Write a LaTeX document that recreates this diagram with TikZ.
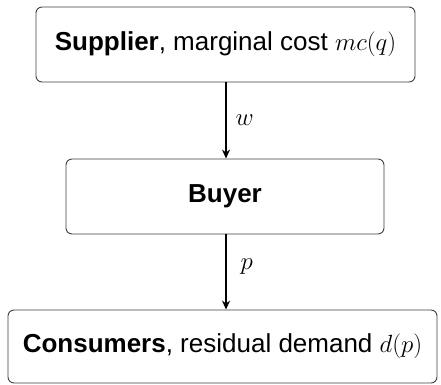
\documentclass[tikz,border=0pt]{standalone}
\usepackage{fontspec}
\setmainfont{Liberation Sans}
\usetikzlibrary{arrows.meta}
\newcommand{\bigmath}[1]{{\fontsize{29}{34}\selectfont$#1$}}
\tikzset{
  box/.style={draw=black!75, line width=0.9pt, rounded corners=6pt, fill=white, inner sep=0pt, font=\fontsize{26}{31}\selectfont},
  flow/.style={draw=black, line width=1.3pt, -{Stealth[length=9pt,width=8pt]}},
  lab/.style={anchor=west, inner sep=0pt, font=\fontsize{27}{32}\selectfont}
}
\begin{document}
\begin{tikzpicture}[x=1pt,y=1pt]
\useasboundingbox (0,0) rectangle (441,384);
\node[box, minimum width=379pt, minimum height=75pt] (sup) at (225.5,339.5)
  {\textbf{Supplier}, marginal cost \bigmath{mc(q)}};
\node[box, minimum width=318pt, minimum height=75pt] (buy) at (225,187.5)
  {\textbf{Buyer}};
\node[box, minimum width=429pt, minimum height=73pt] (con) at (222.5,37.5)
  {\textbf{Consumers}, residual demand \bigmath{d(p)}};
\coordinate (a1) at (226,0);
\draw[flow] (sup.south -| a1) -- node[lab, right=9pt] (w) {$w$} (buy.north -| a1);
\draw[flow] (buy.south -| a1) -- node[lab, right=14pt, yshift=5pt] (p) {$p$} (con.north -| a1);
\end{tikzpicture}
\end{document}
